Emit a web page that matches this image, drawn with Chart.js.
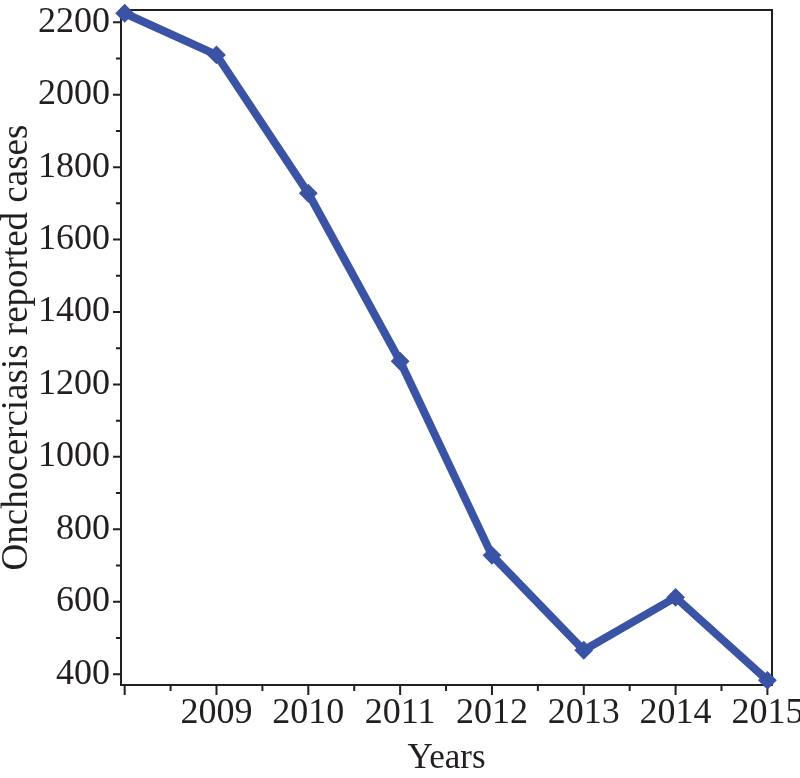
<!DOCTYPE html>
<html>
<head>
<meta charset="utf-8">
<script src="https://cdn.jsdelivr.net/npm/chart.js@4"></script>
<style>
  html, body { margin: 0; padding: 0; background: #fff; }
  #wrap { width: 800px; height: 778px; }
</style>
</head>
<body>
<div id="wrap"><canvas id="cases"></canvas></div>
<script>
const years = [2008, 2009, 2010, 2011, 2012, 2013, 2014, 2015];
const cases = [2225, 2110, 1728, 1264, 728, 466, 612, 383];
const yLabels = [400, 600, 800, 1000, 1200, 1400, 1600, 1800, 2000, 2200];
const xLabels = [2009, 2010, 2011, 2012, 2013, 2014, 2015];

const ink = '#231f20';
const blue = '#3a53a4';
const serif = '"Liberation Serif", "Times New Roman", serif';

// box around the plot and the long/short tick marks
const framePlugin = {
    id: 'frame',
    beforeDatasetsDraw(chart) {
        const ctx = chart.ctx;
        const a = chart.chartArea;
        const xs = chart.scales.x, ys = chart.scales.y;
        ctx.save();
        ctx.strokeStyle = ink;
        ctx.lineWidth = 2;
        ctx.strokeRect(a.left, a.top, a.right - a.left, a.bottom - a.top);
        ctx.beginPath();
        for (let v = years[0]; v <= years[years.length - 1]; v += 0.5) {
            const px = xs.getPixelForValue(v);
            const len = Number.isInteger(v) ? 10 : 6;
            ctx.moveTo(px, a.bottom);
            ctx.lineTo(px, a.bottom + len);
        }
        for (let v = Math.ceil(ys.min / 100) * 100; v <= ys.max; v += 100) {
            const py = ys.getPixelForValue(v);
            const len = v % 200 === 0 ? 8 : 5;
            ctx.moveTo(a.left, py);
            ctx.lineTo(a.left - len, py);
        }
        ctx.stroke();
        ctx.restore();
    }
};

new Chart(document.getElementById('cases'), {
    type: 'scatter',
    data: {
        datasets: [{
            data: years.map((y, i) => ({ x: y, y: cases[i] })),
            showLine: true,
            borderColor: blue,
            backgroundColor: blue,
            borderWidth: 8,
            borderJoinStyle: 'round',
            borderCapStyle: 'round',
            pointStyle: 'rectRot',
            pointRadius: 8,
            pointBorderWidth: 2,
            pointBorderColor: blue,
            pointBackgroundColor: blue,
            clip: false
        }]
    },
    plugins: [framePlugin],
    options: {
        responsive: true,
        maintainAspectRatio: false,
        animation: false,
        layout: { padding: { top: 9, right: 28, left: 0, bottom: 0 } },
        plugins: {
            legend: { display: false },
            tooltip: { enabled: false }
        },
        scales: {
            x: {
                type: 'linear',
                min: 2007.96,
                max: 2015.05,
                grid: { display: false, drawTicks: false },
                border: { display: false },
                ticks: {
                    stepSize: 1,
                    includeBounds: false,
                    autoSkip: false,
                    maxRotation: 0,
                    padding: 7,
                    color: ink,
                    font: { family: serif, size: 36 },
                    callback: v => xLabels.includes(v) ? String(v) : ''
                },
                title: {
                    display: true,
                    text: 'Years',
                    color: ink,
                    font: { family: serif, size: 35, lineHeight: 1.1 },
                    padding: { top: 0, bottom: 0 }
                },
                afterFit(s) { s.height = 93; s.paddingLeft = 0; s.paddingRight = 0; }
            },
            y: {
                min: 370,
                max: 2234,
                grid: { display: false, drawTicks: false },
                border: { display: false },
                ticks: {
                    stepSize: 100,
                    includeBounds: false,
                    autoSkip: false,
                    padding: 11,
                    color: ink,
                    font: { family: serif, size: 36 },
                    callback: v => yLabels.includes(v) ? String(v) : ''
                },
                title: {
                    display: true,
                    text: 'Onchocerciasis reported cases',
                    color: ink,
                    font: { family: serif, size: 37, lineHeight: 0.93 },
                    padding: { top: 0, bottom: 0 }
                },
                afterFit(s) { s.width = 121; s.paddingTop = 0; s.paddingBottom = 0; }
            }
        }
    }
});
</script>
</body>
</html>
